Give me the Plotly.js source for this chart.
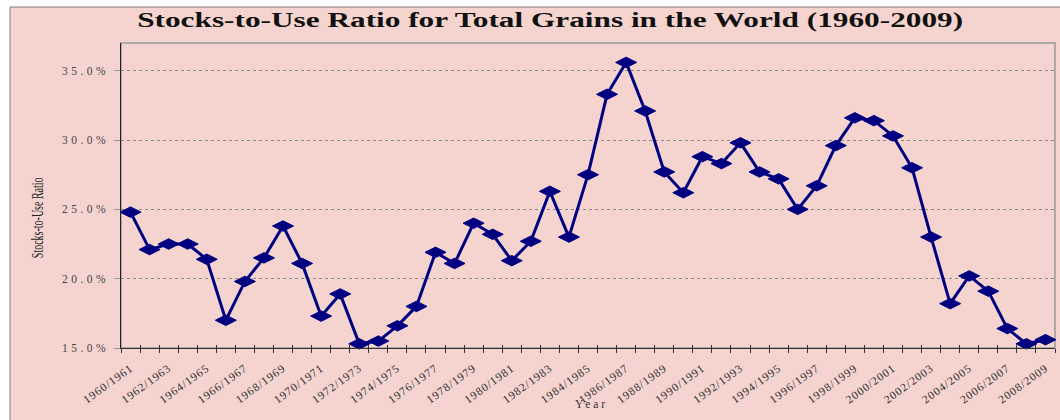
<!DOCTYPE html>
<html><head><meta charset="utf-8">
<script src="https://cdn.plot.ly/plotly-3.0.1.min.js"></script>
<style>
body{margin:0;background:#fff}
#chart{width:1060px;height:420px}
.ytick text{letter-spacing:3.5px}
.xtick text{letter-spacing:1px}
.gtitle{transform-box:fill-box;transform-origin:center}
g.annotation[data-index="0"] text{transform-box:fill-box;transform-origin:center;transform:rotate(-90deg) scaleY(1.7)}
g.annotation[data-index="1"] text{letter-spacing:3px}
</style></head><body><div id="chart"></div>
<script>
const seasons = ["1960/1961","1961/1962","1962/1963","1963/1964","1964/1965","1965/1966","1966/1967","1967/1968","1968/1969","1969/1970",
"1970/1971","1971/1972","1972/1973","1973/1974","1974/1975","1975/1976","1976/1977","1977/1978","1978/1979","1979/1980",
"1980/1981","1981/1982","1982/1983","1983/1984","1984/1985","1985/1986","1986/1987","1987/1988","1988/1989","1989/1990",
"1990/1991","1991/1992","1992/1993","1993/1994","1994/1995","1995/1996","1996/1997","1997/1998","1998/1999","1999/2000",
"2000/2001","2001/2002","2002/2003","2003/2004","2004/2005","2005/2006","2006/2007","2007/2008","2008/2009"];
const ratio = [24.8,22.1,22.5,22.5,21.4,17.0,19.8,21.5,23.8,21.1,
17.3,18.9,15.3,15.5,16.6,18.0,21.9,21.1,24.0,23.2,
21.3,22.7,26.3,23.0,27.5,33.3,35.6,32.1,27.7,26.2,
28.8,28.3,29.8,27.7,27.2,25.0,26.7,29.6,31.6,31.4,
30.3,28.0,23.0,18.2,20.2,19.1,16.4,15.3,15.6];
const yTicks = [15,20,25,30,35];
const yTickText = ["15.0%","20.0%","25.0%","30.0%","35.0%"];

const idx = seasons.map((s,i)=>i);
const labelIdx = idx.filter(i=>i%2===0);
const labelText = labelIdx.map(i=>seasons[i]);
const boundaries = idx.map(i=>i-0.5).concat([seasons.length-0.5]);

const pink = '#F5D4CF';
const navy = '#000080';
const serif = 'Liberation Serif, Times New Roman, serif';

const data = [
  {x: idx, y: ratio, xaxis:'x2', yaxis:'y', mode:'none', hoverinfo:'skip', showlegend:false},
  {x: idx, y: ratio, xaxis:'x', yaxis:'y', type:'scatter', mode:'lines+markers',
   line:{color:navy, width:3},
   marker:{symbol:'diamond-wide', size:15, color:navy, line:{color:navy, width:1}},
   cliponaxis:false, showlegend:false}
];

const layout = {
  width:1060, height:420,
  margin:{l:121, r:5, t:43, b:72},
  paper_bgcolor:'#ffffff', plot_bgcolor:'rgba(0,0,0,0)',
  showlegend:false,
  title:{text:'Stocks-to-Use Ratio for Total Grains in the World (1960-2009)',
    font:{family:serif, size:20, weight:'bold', color:'#111'},
    xref:'container', x:0.519, yref:'container', y:1-20/420, yanchor:'middle', xanchor:'center'},
  xaxis:{range:[-0.5, seasons.length-0.5], tickmode:'array', tickvals:labelIdx, ticktext:labelText,
    ticks:'', tickangle:-36, tickfont:{family:serif, size:11.5, color:'#333'},
    showline:true, linecolor:'#333', linewidth:1, showgrid:false, zeroline:false,
    minor:{tickmode:'array', tickvals:boundaries, ticks:'outside', ticklen:4, tickcolor:'#333', tickwidth:1, showgrid:false},
    ticklabelstandoff:8, fixedrange:true},
  xaxis2:{overlaying:'x', anchor:'y', side:'bottom', range:[-0.5, seasons.length-0.5],
    tickmode:'array', tickvals:boundaries, ticks:'inside', ticklen:3, tickcolor:'#333', tickwidth:1,
    showticklabels:false, showline:false, showgrid:false, zeroline:false},
  yaxis:{range:[15,37], tickmode:'array', tickvals:yTicks, ticktext:yTickText,
    ticks:'outside', ticklen:6, tickcolor:'#999', tickwidth:1,
    tickfont:{family:serif, size:11.5, color:'#444'},
    showgrid:true, gridcolor:'#8a8a8a', gridwidth:1, griddash:'dot',
    showline:true, linecolor:'#222', linewidth:1.5, zeroline:false, ticklabelstandoff:2},
  shapes:[
    {type:'rect', xref:'paper', yref:'paper', layer:'below',
     x0:(10-121)/934, x1:(1075-121)/934, y0:1-(430-43)/305, y1:1+(43-7)/305,
     fillcolor:pink, line:{color:'#8B7B78', width:1}},
    {type:'rect', xref:'paper', yref:'paper', layer:'below', x0:0, x1:1, y0:0, y1:1,
     fillcolor:'rgba(0,0,0,0)', line:{color:'#9a9a9a', width:1.5}}
  ],
  annotations:[
    {text:'Stocks-to-Use Ratio', xref:'paper', yref:'paper', x:(37-121)/934, y:1-(217-43)/305,
     xanchor:'center', yanchor:'middle',
     textangle:0, showarrow:false, font:{family:serif, size:10, color:'#222'}},
    {text:'Year', xref:'paper', yref:'paper', x:(591-121)/934, y:1-(404-43)/305,
     xanchor:'center', yanchor:'middle',
     showarrow:false, font:{family:serif, size:11.5, color:'#333'}}
  ]
};

Plotly.newPlot('chart', data, layout, {staticPlot:true}).then(()=>{
  const t = document.querySelector('.gtitle');
  if (t) { const w = t.getBBox().width; if (w>0) t.style.transform = 'scaleX(' + (826/w) + ')'; }
});
</script></body></html>
